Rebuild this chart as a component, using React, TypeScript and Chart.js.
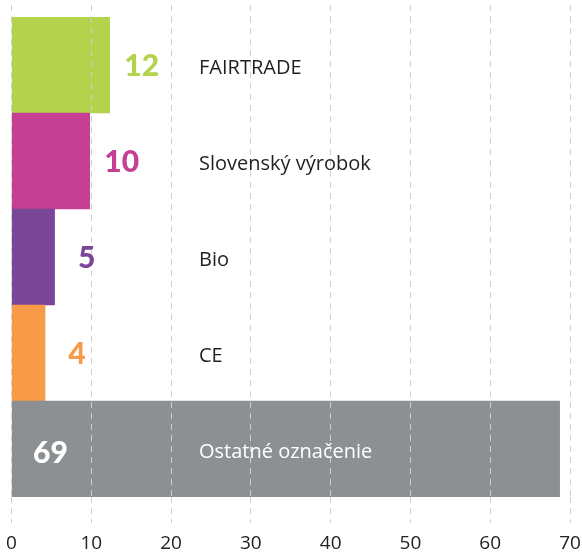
import React, { useEffect, useRef } from "react";
import { Chart, registerables } from "chart.js";

Chart.register(...registerables);

const categories = ["FAIRTRADE", "Slovenský výrobok", "Bio", "CE", "Ostatné označenie"];
const values = [12.3, 9.8, 5.4, 4.2, 68.7];
const valueLabels = ["12", "10", "5", "4", "69"];
const barColors = ["#b4d24b", "#c44093", "#794698", "#f79b48", "#8d9092"];
const axisMin = 0;
const axisMax = 70;
const axisStep = 10;

const GRID = "#cfcfcf";
const DASH = [6, 5];

const labelPlugin = {
  id: "barLabels",
  afterDraw(chart: any) {
    const ctx = chart.ctx;
    const meta = chart.getDatasetMeta(0);
    const xs = chart.scales.x;
    ctx.save();
    meta.data.forEach((bar: any, i: number) => {
      const p = bar.getProps(["x", "y", "base"], true);
      const inside = values[i] > (axisMax - axisMin) / 2;
      ctx.font = '900 30px Lato';
      ctx.textBaseline = "middle";
      if (inside) {
        ctx.fillStyle = "#ffffff";
        ctx.textAlign = "left";
        ctx.fillText(valueLabels[i], p.base + 21, p.y + 4);
      } else {
        ctx.fillStyle = barColors[i];
        ctx.textAlign = "center";
        ctx.fillText(valueLabels[i], p.x + 32, p.y + 1);
      }
      ctx.font = '20px "Open Sans"';
      ctx.fillStyle = inside ? "#ffffff" : "#231f20";
      ctx.textAlign = "left";
      ctx.fillText(categories[i], xs.getPixelForValue(23.5), p.y + 3);
    });
    ctx.restore();
  },
};

export default function App() {
  const ref = useRef<HTMLCanvasElement | null>(null);
  useEffect(() => {
    if (!ref.current) return;
    const chart = new Chart(ref.current, {
      type: "bar",
      data: {
        labels: categories,
        datasets: [
          {
            data: values,
            backgroundColor: barColors,
            borderWidth: 0,
            barPercentage: 1,
            categoryPercentage: 1,
          },
        ],
      },
      options: {
        indexAxis: "y",
        animation: false,
        responsive: false,
        devicePixelRatio: 1,
        layout: { padding: { left: 11.5, right: 12, top: 5, bottom: 0 } },
        plugins: { legend: { display: false }, tooltip: { enabled: false } },
        scales: {
          y: { display: false },
          x: {
            position: "bottom",
            min: axisMin,
            max: axisMax,
            ticks: {
              stepSize: axisStep,
              color: "#222",
              padding: 9,
              font: { family: "'Open Sans'", size: 19 },
            },
            grid: {
              color: GRID,
              lineWidth: 1,
              z: 1,
              tickLength: 26,
              tickColor: GRID,
              tickBorderDash: DASH,
            },
            border: { display: false, dash: DASH },
            afterFit: (s: any) => {
              s.height = 55;
              s.paddingLeft = 0;
              s.paddingRight = 0;
            },
          },
          x2: {
            type: "linear",
            position: "top",
            min: axisMin,
            max: axisMax,
            ticks: { display: false, stepSize: axisStep },
            grid: {
              color: GRID,
              drawOnChartArea: false,
              tickLength: 12,
              tickColor: GRID,
              tickBorderDash: DASH,
            },
            border: { display: false },
            afterFit: (s: any) => {
              s.height = 12;
              s.paddingLeft = 0;
              s.paddingRight = 0;
            },
          },
        },
      },
      plugins: [labelPlugin],
    });
    return () => chart.destroy();
  }, []);
  return (
    <div style={{ position: "absolute", left: 0, top: 0, width: 582, height: 552 }}>
      <canvas ref={ref} width={582} height={552} />
    </div>
  );
}
